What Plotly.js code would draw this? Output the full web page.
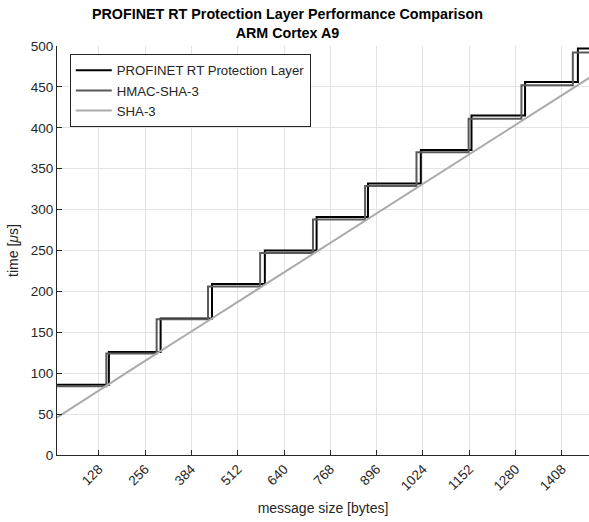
<!DOCTYPE html>
<html>
<head>
<meta charset="utf-8">
<script src="https://cdn.plot.ly/plotly-3.0.1.min.js"></script>
<style>html,body{margin:0;padding:0;background:#fff;}#chart{width:589px;height:522px;}</style>
</head>
<body>
<div id="chart"></div>
<script>
// Tick labels
var xTicks = [128, 256, 384, 512, 640, 768, 896, 1024, 1152, 1280, 1408];

// PROFINET RT Protection Layer: step positions (bytes) and levels (us)
var profinetX = [13, 156, 299, 441, 587, 730, 872, 1018, 1158, 1306, 1452, 1483];
var profinetY = [86, 126, 167, 209, 250, 291, 332, 373, 415, 456, 497, 497];

// HMAC-SHA-3
var hmacX = [13, 149, 288, 430, 574, 720, 864, 1006, 1150, 1296, 1438, 1483];
var hmacY = [84, 124, 166, 206, 247, 288, 329, 370, 411, 452, 492, 492];

// SHA-3
var shaX = [13, 128, 256, 384, 512, 640, 768, 896, 1024, 1152, 1280, 1408, 1483];
var shaY = [46, 79, 115, 151, 187, 223, 259, 295, 331, 367, 403, 439, 461];

var titleLines = ["PROFINET RT Protection Layer Performance Comparison", "ARM Cortex A9"];

var font = "Liberation Sans, Arial, Helvetica, sans-serif";
var txt = "#262626";

var traces = [
  {x: profinetX, y: profinetY, name: "PROFINET RT Protection Layer", mode: "lines",
   line: {color: "#000000", width: 2, shape: "hv"}},
  {x: hmacX, y: hmacY, name: "HMAC-SHA-3", mode: "lines",
   line: {color: "#595959", width: 2, shape: "hv"}},
  {x: shaX, y: shaY, name: "SHA-3", mode: "lines",
   line: {color: "#aaaaaa", width: 2}}
];

var layout = {
  width: 589, height: 522,
  margin: {l: 57, r: 0, t: 46, b: 67, pad: 0},
  paper_bgcolor: "#ffffff", plot_bgcolor: "#ffffff",
  font: {family: font, size: 13, color: txt},
  annotations: [{
    text: "<b>" + titleLines.join("<br>") + "</b>",
    xref: "paper", yref: "paper",
    x: 0.434, xanchor: "center",
    y: 1.103, yanchor: "top",
    showarrow: false,
    font: {family: font, size: 14.3, color: "#000000"}
  }],
  showlegend: true,
  legend: {
    x: 0.024, y: 0.98, xanchor: "left", yanchor: "top",
    bgcolor: "#ffffff", bordercolor: "#262626", borderwidth: 1,
    font: {family: font, size: 13.2, color: txt},
    tracegroupgap: 0, itemwidth: 36
  },
  xaxis: {
    range: [12.7, 1482.7],
    tickmode: "array", tickvals: xTicks, ticktext: xTicks.map(String),
    tickangle: -45,
    ticks: "inside", ticklen: 5, tickwidth: 1, tickcolor: txt,
    showline: true, linecolor: txt, linewidth: 1, mirror: false,
    showgrid: true, gridcolor: "#e3e3e3", gridwidth: 1,
    zeroline: false,
    tickfont: {family: font, size: 13.5, color: txt},
    title: {text: "message size [bytes]", font: {family: font, size: 14, color: txt}, standoff: 10},
    automargin: false
  },
  yaxis: {
    range: [0, 500],
    tickmode: "linear", tick0: 0, dtick: 50,
    ticks: "inside", ticklen: 5, tickwidth: 1, tickcolor: txt,
    showline: true, linecolor: txt, linewidth: 1, mirror: false,
    showgrid: true, gridcolor: "#e3e3e3", gridwidth: 1,
    zeroline: false,
    tickfont: {family: font, size: 13.5, color: txt},
    title: {text: "time [<i>μ</i>s]", font: {family: font, size: 14, color: txt}, standoff: 8},
    automargin: false
  }
};

Plotly.newPlot("chart", traces, layout, {displayModeBar: false, staticPlot: true});
</script>
</body>
</html>
